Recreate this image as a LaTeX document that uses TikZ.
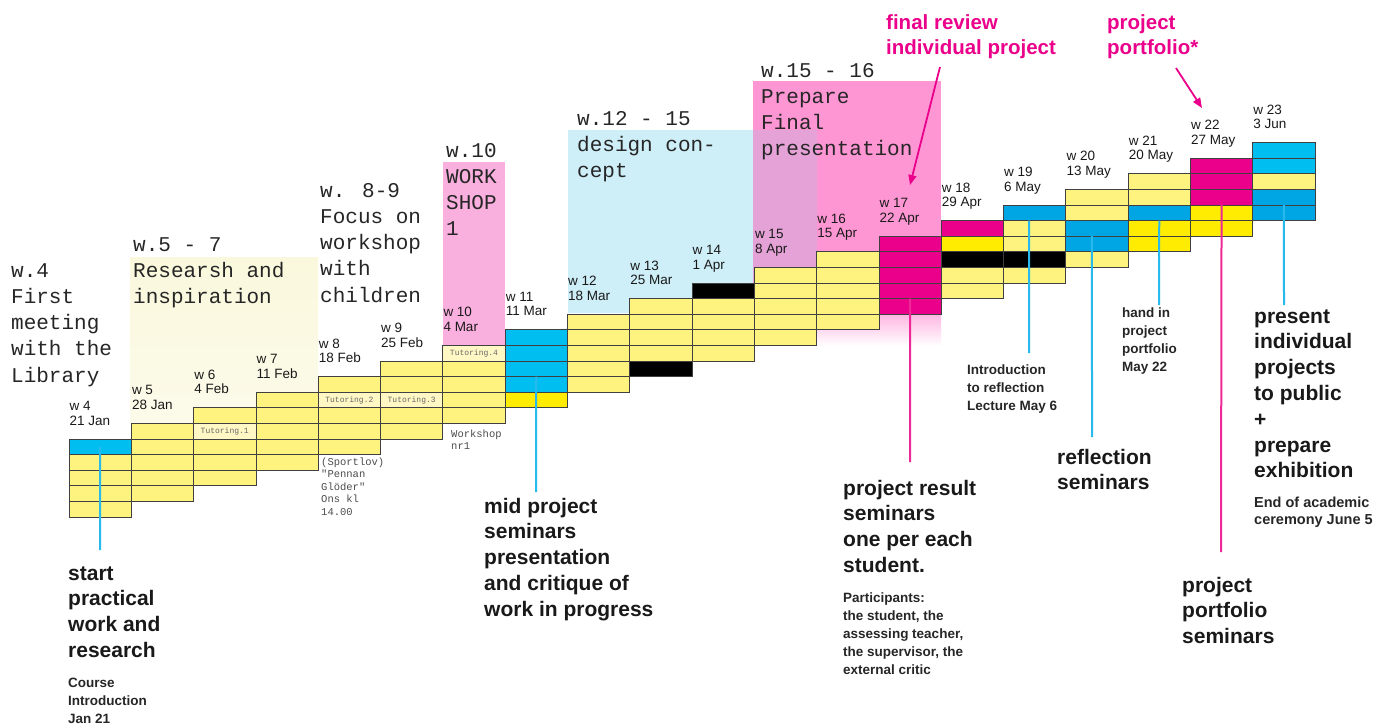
\documentclass[tikz,border=0pt]{standalone}
\usepackage{fontspec}
\setmainfont{Liberation Sans}
\newfontfamily\monofont{Liberation Mono}
\usetikzlibrary{arrows.meta}

% cell colours
\definecolor{clp}{RGB}{255,243,128}
\definecolor{cly}{RGB}{255,236,0}
\definecolor{clc}{RGB}{0,190,240}
\definecolor{clb}{RGB}{0,166,228}
\definecolor{clm}{RGB}{234,0,138}
\definecolor{clk}{RGB}{0,0,0}
\definecolor{clt}{RGB}{255,248,196}
% backgrounds and lines
\definecolor{creambg}{RGB}{250,248,220}
\definecolor{pinkbg}{RGB}{250,176,222}
\definecolor{bluebg}{RGB}{206,238,248}
\definecolor{finalbg}{RGB}{255,150,212}
\definecolor{mixbg}{RGB}{228,162,215}
\definecolor{leadblue}{RGB}{40,186,236}
\definecolor{leadmag}{RGB}{238,40,150}

\newcommand{\txtlines}[1]{\begin{tabular}[t]{@{}l@{}}#1\end{tabular}}

\begin{document}
\begin{tikzpicture}[x=1pt, y=-1pt,
    cell/.style={draw=black!75, line width=0.8, minimum width=62.3, minimum height=15.6, inner sep=0, outer sep=0, anchor=north west},
    wk/.style={font=\fontsize{13.5}{14.5}\selectfont, text=black!90, inner sep=0, anchor=base west},
    title/.style={font=\monofont\fontsize{21}{26.3}\selectfont, text=black!85, inner sep=0, anchor=base west},
    note/.style={font=\monofont\fontsize{10.5}{12.5}\selectfont, text=black!70, inner sep=0, anchor=base west},
    tut/.style={font=\monofont\fontsize{8}{8}\selectfont, text=black!60, fill=clt, minimum width=60, minimum height=13.5, inner sep=0},
    big/.style={font=\bfseries\fontsize{21}{25.8}\selectfont, text=black!90, inner sep=0, anchor=base west},
    small/.style={font=\bfseries\fontsize{13.5}{18}\selectfont, text=black!85, inner sep=0, anchor=base west},
    magtext/.style={font=\bfseries\fontsize{20.5}{25}\selectfont, text=clm, inner sep=0, anchor=base west},
    leadb/.style={draw=leadblue, line width=2},
    leadm/.style={draw=leadmag, line width=2},
    magarrow/.style={draw=clm, line width=1.8, -{Triangle[length=10pt,width=8pt]}}]
  \useasboundingbox (0,0) rectangle (1375,724);

  % phase backgrounds
  \shade[top color=creambg, bottom color=creambg!60] (130,257) rectangle (318,423);
  \fill[pinkbg] (443,162) rectangle (505,345);
  \fill[bluebg] (568,130) rectangle (817,313);
  \fill[finalbg] (753,81) rectangle (941,300);
  \fill[mixbg] (753,130) rectangle (817,300);
  \shade[top color=finalbg, bottom color=white] (753,300) rectangle (941,346);

  % week blocks
  \foreach \w/\d/\cols [count=\i from 0] in {
      4/21 Jan/{c,p,p,p,p}, 5/28 Jan/{p,p,p,p,p}, 6/4 Feb/{p,t,p,p,p},
      7/11 Feb/{p,p,p,p,p}, 8/18 Feb/{p,t,p,p,p}, 9/25 Feb/{p,p,t,p,p},
      10/4 Mar/{t,p,p,p,p}, 11/11 Mar/{c,c,c,c,y}, 12/18 Mar/{p,p,p,p,p},
      13/25 Mar/{p,p,p,p,k}, 14/1 Apr/{k,p,p,p,p}, 15/8 Apr/{p,p,p,p,p},
      16/15 Apr/{p,p,p,p,p}, 17/22 Apr/{m,m,m,m,m}, 18/29 Apr/{m,y,k,p,p},
      19/6 May/{b,p,p,k,p}, 20/13 May/{p,p,b,b,p}, 21/20 May/{p,p,b,y,y},
      22/27 May/{m,m,m,y,y}, 23/3 Jun/{c,c,p,b,b}} {
    \pgfmathsetmacro\xl{69+62.3*\i}
    \pgfmathsetmacro\yt{439-15.6*\i}
    \foreach \c [count=\r from 0] in \cols
      \node[cell, fill=cl\c] (c\w-\r) at (\xl,\yt+15.6*\r) {};
    \node[wk] (d\w) at (\xl+0.5,\yt-28.5) {\txtlines{w \w\\\d}};
  }

  % tutoring slots
  \node[tut] (tut1) at (c6-1.center) {Tutoring.1};
  \node[tut] (tut2) at (c8-1.center) {Tutoring.2};
  \node[tut] (tut3) at (c9-2.center) {Tutoring.3};
  \node[tut] (tut4) at (c10-0.center) {Tutoring.4};

  % phase titles
  \node[title] (t4) at (11,277) {\txtlines{w.4\\First\\meeting\\with the\\Library}};
  \node[title] (t5) at (133,251) {\txtlines{w.5 - 7\\Researsh and\\inspiration}};
  \node[title] (t8) at (320,197) {\txtlines{w. 8-9\\Focus on\\workshop\\with\\children}};
  \node[title] (t10) at (446,157) {\txtlines{w.10\\WORK\\SHOP\\1}};
  \node[title] (t12) at (577,125) {\txtlines{w.12 - 15\\design con-\\cept}};
  \node[title] (t15) at (761,77) {\txtlines{w.15 - 16\\Prepare\\Final\\presentation}};

  % small notes
  \node[note] (nws) at (451,437) {\txtlines{Workshop\\nr1}};
  \node[note] (nsp) at (321,465) {\txtlines{(Sportlov)\\"Pennan\\Glöder"\\Ons kl\\14.00}};

  % leader lines
  \coordinate (e4) at (100,550);
  \coordinate (e11) at (536,492);
  \coordinate (e17) at (910,462);
  \coordinate (e19) at (1029,353);
  \coordinate (e20) at (1092,437);
  \coordinate (e21) at (1159,305);
  \coordinate (e22) at (1221,552);
  \coordinate (e23) at (1284,305);
  \draw[leadb] (c4-0.center) -- (e4);
  \draw[leadb] (c11-2.south) -- (e11);
  \draw[leadm] (c17-3.south) -- (e17);
  \draw[leadb] ([xshift=-5.6pt]c19-0.south) -- (e19);
  \draw[leadb] ([xshift=-5pt]c20-2.south) -- (e20);
  \draw[leadb] (c21-2.south) -- (e21);
  \draw[leadm] (c22-2.south) -- (e22);
  \draw[leadb] (c23-3.south) -- (e23);

  % seminar texts
  \node[big] (start) at (68,580) {\txtlines{start\\practical\\work and\\research}};
  \node[small] (intro) at (68,687) {\txtlines{Course\\Introduction\\Jan 21}};
  \node[big] (mid) at (484,513) {\txtlines{mid project\\seminars\\presentation\\and critique of\\work in progress}};
  \node[big] (result) at (843,495) {\txtlines{project result\\seminars\\one per each\\student.}};
  \node[small] (partic) at (843,602) {\txtlines{Participants:\\the student, the\\assessing teacher,\\the supervisor, the\\external critic}};
  \node[small] (reflintro) at (967,374) {\txtlines{Introduction\\to reflection\\Lecture May 6}};
  \node[big] (refl) at (1057,464) {\txtlines{reflection\\seminars}};
  \node[small] (handin) at (1122,317) {\txtlines{hand in\\project\\portfolio\\May 22}};
  \node[big] (portsem) at (1182,592) {\txtlines{project\\portfolio\\seminars}};
  \node[big] (present) at (1254,323) {\txtlines{present\\individual\\projects\\to public\\+\\prepare\\exhibition}};
  \node[small, font=\bfseries\fontsize{14.5}{17.5}\selectfont] (endacad) at (1254,507) {\txtlines{End of academic\\ceremony June 5}};

  % deadlines
  \node[magtext] (fr) at (886,29) {\txtlines{final review\\individual project}};
  \node[magtext] (pp) at (1107,29) {\txtlines{project\\portfolio*}};
  \coordinate (fr-tail) at (940,67);
  \coordinate (fr-tip) at (910,185);
  \coordinate (pp-tail) at (1176,68);
  \coordinate (pp-tip) at (1202,108);
  \draw[magarrow] (fr-tail) -- (fr-tip);
  \draw[magarrow] (pp-tail) -- (pp-tip);
\end{tikzpicture}
\end{document}
